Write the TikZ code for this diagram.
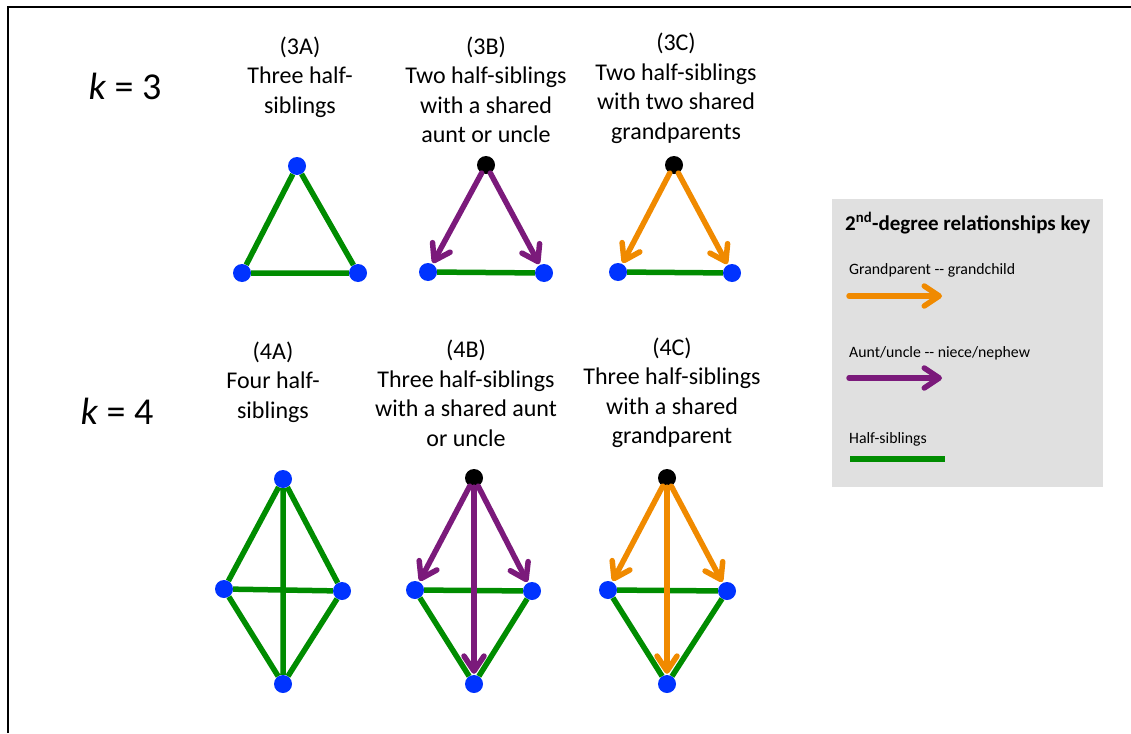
\documentclass[tikz,border=0pt]{standalone}
\usepackage{fontspec}
\setmainfont{Carlito}
\usetikzlibrary{arrows.meta}
\definecolor{sibgreen}{RGB}{0,140,0}
\definecolor{dotblue}{RGB}{0,51,255}
\definecolor{auntpurple}{RGB}{123,26,123}
\definecolor{gporange}{RGB}{240,138,0}
\definecolor{keygray}{RGB}{224,224,224}
\tikzset{
  person/.style={circle,fill=dotblue,inner sep=0pt,minimum size=18pt},
  elder/.style={circle,fill=black,inner sep=0pt,minimum size=18pt},
  sib/.style={draw=sibgreen,line width=5.5pt},
  rel/.style={line width=5.5pt,line cap=round,-{Straight Barb[length=15pt,width=20pt,round]},shorten >=1pt},
  aunt/.style={rel,draw=auntpurple},
  gp/.style={rel,draw=gporange},
  caption/.style={align=center,font=\fontsize{24}{29.5}\selectfont,inner sep=0pt},
  klabel/.style={font=\fontsize{38}{42}\selectfont,inner sep=0pt},
  keytext/.style={font=\fontsize{15.8}{18}\selectfont,anchor=west,inner sep=0pt}
}
\begin{document}
\begin{tikzpicture}[x=1pt,y=-1pt]
\useasboundingbox (0,0) rectangle (1131,733);
% frame
\draw[line width=2.5pt] (8,733) -- (8,7) -- (1131,7);

% labels
\node[klabel] (k3) at (125,86) {{\itshape k} = 3};
\node[klabel] (k4) at (117,411) {{\itshape k} = 4};

\node[caption] (c3a) at (300,77) {(3A)\\Three half-\\siblings};
\node[caption] (c3b) at (486,90) {(3B)\\Two half-siblings\\with a shared\\aunt or uncle};
\node[caption] (c3c) at (676,88.5) {(3C)\\Two half-siblings\\with two shared\\grandparents};
\node[caption] (c4a) at (273,382) {(4A)\\Four half-\\siblings};
\node[caption] (c4b) at (466,393.5) {(4B)\\Three half-siblings\\with a shared aunt\\or uncle};
\node[caption] (c4c) at (672,393) {(4C)\\Three half-siblings\\with a shared\\grandparent};

% 3A
\node[person] (a1) at (297,166) {};
\node[person] (a2) at (242,273) {};
\node[person] (a3) at (358,273) {};
\draw[sib] (a1) -- (a2) (a1) -- (a3) (a2) -- (a3);

% 3B
\node[elder] (b1) at (486,165) {};
\node[person] (b2) at (428,272) {};
\node[person] (b3) at (544,273) {};
\draw[sib] (b2) -- (b3);
\draw[aunt] (b1) -- (b2);
\draw[aunt] (b1) -- (b3);

% 3C
\node[elder] (g1) at (674,165) {};
\node[person] (g2) at (618,272) {};
\node[person] (g3) at (732,273) {};
\draw[sib] (g2) -- (g3);
\draw[gp] (g1) -- (g2);
\draw[gp] (g1) -- (g3);

% 4A
\node[person] (d1) at (283,479) {};
\node[person] (d2) at (224,589) {};
\node[person] (d3) at (342,591) {};
\node[person] (d4) at (283,684) {};
\draw[sib] (d1) -- (d2) (d1) -- (d3) (d2) -- (d3) (d1) -- (d4) (d2) -- (d4) (d3) -- (d4);

% 4B
\node[elder] (e1) at (474,478) {};
\node[person] (e2) at (415,590) {};
\node[person] (e3) at (532,591) {};
\node[person] (e4) at (474,684) {};
\draw[sib] (e2) -- (e3) (e2) -- (e4) (e3) -- (e4);
\draw[aunt] (e1) -- (e2);
\draw[aunt] (e1) -- (e3);
\draw[aunt] (e1) -- (e4);

% 4C
\node[elder] (f1) at (667,478) {};
\node[person] (f2) at (608,590) {};
\node[person] (f3) at (727,591) {};
\node[person] (f4) at (667,684) {};
\draw[sib] (f2) -- (f3) (f2) -- (f4) (f3) -- (f4);
\draw[gp] (f1) -- (f2);
\draw[gp] (f1) -- (f3);
\draw[gp] (f1) -- (f4);

% key
\node[fill=keygray,minimum width=271pt,minimum height=288pt,inner sep=0pt,anchor=north west] (key) at (832,199) {};
\node[font=\bfseries\fontsize{21}{24}\selectfont,inner sep=0pt,anchor=west] (keytitle) at (845,223) {2\textsuperscript{nd}-degree relationships key};
\node[keytext] (kgp) at (849,270) {Grandparent -{}- grandchild};
\coordinate (kgpa) at (849,296);
\coordinate (kgpb) at (943,296);
\draw[gp] (kgpa) -- (kgpb);
\node[keytext] (kau) at (849,353) {Aunt/uncle -{}- niece/nephew};
\coordinate (kaua) at (849,378);
\coordinate (kaub) at (943,378);
\draw[aunt] (kaua) -- (kaub);
\node[keytext] (ksib) at (849,439) {Half-siblings};
\coordinate (ksiba) at (850,459);
\coordinate (ksibb) at (945,459);
\draw[sib] (ksiba) -- (ksibb);
\end{tikzpicture}
\end{document}
